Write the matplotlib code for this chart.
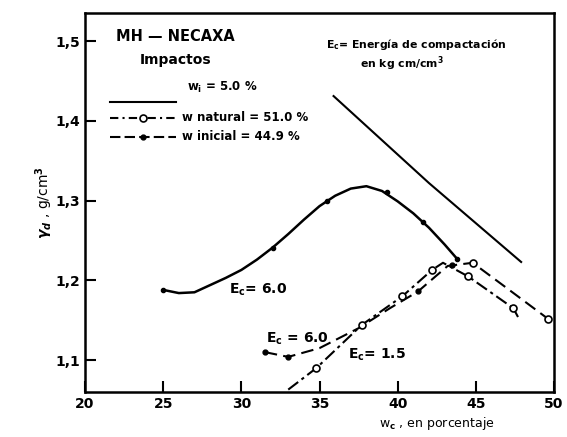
import matplotlib
matplotlib.use("Agg")
import matplotlib.pyplot as plt

# upper solid curve, E_c = 6.0, w_i = 5.0 %
wi_x = [25, 26, 27, 28, 29, 30, 31, 32, 33, 34, 35, 36, 37, 38, 39, 40, 41, 42, 43, 43.8]
wi_y = [1.188, 1.184, 1.185, 1.194, 1.203, 1.213, 1.226, 1.241, 1.258, 1.276, 1.293, 1.306,
        1.315, 1.318, 1.312, 1.299, 1.284, 1.266, 1.245, 1.227]
wi_pts_x = [25, 32, 35.5, 39.3, 41.6, 43.8]
wi_pts_y = [1.188, 1.241, 1.300, 1.311, 1.273, 1.227]

# straight solid line at upper right
top_x = [35.9, 42, 47.9]
top_y = [1.431, 1.322, 1.223]

# w inicial, E_c = 6.0 (dashed, filled dots)
ini_x = [31.5, 33.0, 35.0, 37.5, 39.5, 41.3, 43.2, 44.8, 47.0, 49.6]
ini_y = [1.110, 1.104, 1.115, 1.140, 1.165, 1.186, 1.218, 1.222, 1.190, 1.152]
ini_fill_x = [31.5, 33.0, 41.3, 43.5]
ini_fill_y = [1.110, 1.104, 1.186, 1.219]
ini_open_x = [44.8, 49.6]
ini_open_y = [1.222, 1.152]

# w natural, E_c = 1.5 (dash-dot, open circles)
nat_x = [33.0, 34.8, 37.7, 40.3, 42.2, 42.9, 44.5, 47.4, 47.7]
nat_y = [1.063, 1.090, 1.144, 1.180, 1.213, 1.222, 1.205, 1.165, 1.154]
nat_pts_x = [34.8, 37.7, 40.3, 42.2, 44.5, 47.4]
nat_pts_y = [1.090, 1.144, 1.180, 1.213, 1.205, 1.165]

x_ticks = [20, 25, 30, 35, 40, 45, 50]
y_ticks = [1.1, 1.2, 1.3, 1.4, 1.5]
y_labels = ["1,1", "1,2", "1,3", "1,4", "1,5"]

plt.rcParams['font.family'] = ['DejaVu Sans']
plt.rcParams['font.weight'] = 'bold'

fig = plt.figure(figsize=(5.67, 4.37), dpi=100)
ax = fig.add_axes([0.150, 0.103, 0.827, 0.867])
k = 'black'

ax.plot(wi_x, wi_y, '-', color=k, lw=1.8)
ax.plot(wi_pts_x, wi_pts_y, 'o', color=k, ms=3)
ax.plot(top_x, top_y, '-', color=k, lw=1.5)

ax.plot(ini_x, ini_y, color=k, lw=1.5, ls=(0, (6, 3)))
ax.plot(ini_fill_x, ini_fill_y, 'o', color=k, ms=3.5)
ax.plot(ini_open_x, ini_open_y, 'o', mfc='white', mec=k, mew=1.2, ms=5)

ax.plot(nat_x, nat_y, color=k, lw=1.5, ls=(0, (6, 2, 1.5, 2)))
ax.plot(nat_pts_x, nat_pts_y, 'o', mfc='white', mec=k, mew=1.2, ms=5)

# legend drawn by hand, as in the figure
ax.text(26.5, 1.442, r"w$_{\rm i}$ = 5.0 %", fontsize=8.5, va='center')
ax.plot([21.6, 25.8], [1.423, 1.423], '-', color=k, lw=1.5)
ax.plot([21.6, 25.8], [1.404, 1.404], color=k, lw=1.5, ls=(0, (4, 2, 1, 2)))
ax.plot([23.7], [1.404], 'o', mfc='white', mec=k, mew=1.2, ms=5)
ax.text(26.2, 1.404, "w natural = 51.0 %", fontsize=8.5, va='center')
ax.plot([21.6, 25.8], [1.380, 1.380], color=k, lw=1.5, ls=(0, (5, 2)))
ax.plot([23.7], [1.380], 'o', color=k, ms=3.5)
ax.text(26.2, 1.380, "w inicial = 44.9 %", fontsize=8.5, va='center')

ax.text(25.8, 1.506, "MH — NECAXA", fontsize=10.5, ha='center', va='center')
ax.text(25.8, 1.476, "Impactos", fontsize=10, ha='center', va='center')
ax.text(35.4, 1.496, r"E$_{\rm c}$= Energía de compactación", fontsize=7.8, va='center')
ax.text(37.6, 1.471, r"en kg cm/cm$^{3}$", fontsize=7.8, va='center')

ax.text(29.2, 1.188, r"E$_{\rm c}$= 6.0", fontsize=10, va='center')
ax.text(31.6, 1.127, r"E$_{\rm c}$ = 6.0", fontsize=10, va='center')
ax.text(36.8, 1.106, r"E$_{\rm c}$= 1.5", fontsize=10, va='center')

ax.set_xlim(20, 50)
ax.set_ylim(1.06, 1.535)
ax.set_xticks(x_ticks)
ax.set_yticks(y_ticks)
ax.set_yticklabels(y_labels)
ax.tick_params(direction='in', length=8, width=1.5, labelsize=10)
for s in ax.spines.values():
    s.set_linewidth(1.8)

ax.set_ylabel(r"$\gamma_d$ , g/cm$^3$", fontsize=10)
ax.yaxis.set_label_coords(-0.065, 0.5)
ax.set_xlabel(r"w$_{\rm c}$ , en porcentaje", fontsize=9)
ax.xaxis.set_label_coords(0.75, -0.06)

fig.savefig("out.png", dpi=100)
